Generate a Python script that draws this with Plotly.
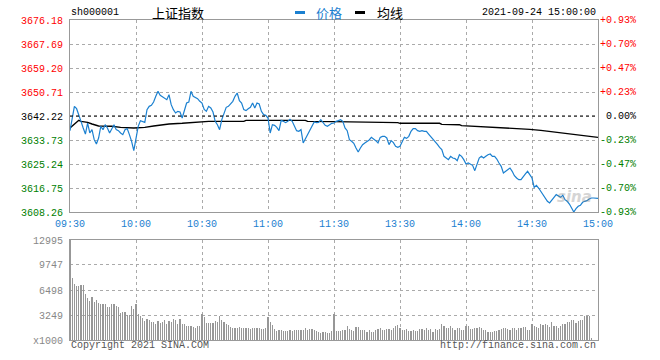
import plotly.graph_objects as go

# ---------------- data ----------------
prev_close = 3642.22
price_ticks = [3608.26, 3616.75, 3625.24, 3633.73, 3642.22, 3650.71, 3659.20, 3667.69, 3676.18]
pct_ticks = ["-0.93%", "-0.70%", "-0.47%", "-0.23%", "0.00%", "+0.23%", "+0.47%", "+0.70%", "+0.93%"]
time_ticks = [0, 30, 60, 90, 120, 150, 180, 210, 240]
time_labels = ["09:30", "10:00", "10:30", "11:00", "11:30", "13:30", "14:00", "14:30", "15:00"]
vol_ticks = [0, 3249, 6498, 9747, 12995]
vol_labels = ["x1000", "3249", "6498", "9747", "12995"]

price_min = [0, 2, 3, 4, 5, 6, 7, 8, 9, 10, 11, 12, 13, 14, 15, 16, 17, 18, 19, 20,
             21, 22, 23, 24, 25, 26, 27, 28, 29, 30, 31, 32, 33, 34, 35, 36, 37, 38, 39, 40,
             41, 42, 43, 44, 45, 46, 47, 48, 49, 50, 51, 52, 53, 54, 55, 56, 57, 58, 59, 60,
             61, 62, 63, 64, 65, 66, 67, 68, 69, 70, 71, 72, 73, 74, 75, 76, 77, 78, 79, 80,
             81, 82, 83, 84, 85, 86, 87, 88, 89, 90, 91, 92, 93, 94, 95, 96, 97, 98, 99, 100,
             101, 102, 103, 104, 105, 106, 107, 108, 109, 110, 111, 112, 113, 114, 115, 116, 117, 118, 119, 120,
             121, 122, 123, 124, 125, 126, 127, 128, 129, 130, 131, 132, 133, 134, 135, 136, 137, 138, 139, 140,
             141, 142, 143, 144, 145, 146, 147, 148, 149, 150, 151, 152, 153, 154, 155, 156, 157, 158, 159, 160,
             161, 162, 163, 164, 165, 166, 167, 168, 169, 170, 171, 172, 173, 174, 175, 176, 177, 178, 179, 180,
             181, 182, 183, 184, 185, 186, 187, 188, 189, 190, 191, 192, 193, 194, 195, 196, 197, 198, 199, 200,
             201, 202, 203, 204, 205, 206, 207, 208, 209, 210, 211, 212, 213, 214, 215, 216, 217, 218, 219, 220,
             221, 222, 223, 224, 225, 226, 227, 228, 229, 230, 231, 232, 233, 234, 235, 236, 237, 238, 240]
price = [3637.03, 3645.64, 3644.81, 3642.10, 3640.33, 3637.98, 3635.85, 3639.74, 3636.21, 3637.39,
         3633.85, 3632.32, 3634.44, 3638.57, 3637.39, 3639.15, 3637.98, 3636.21, 3637.98, 3639.15,
         3637.39, 3637.03, 3636.21, 3635.62, 3637.39, 3637.74, 3635.62, 3633.26, 3629.96, 3634.44,
         3638.57, 3640.57, 3640.33, 3639.98, 3644.46, 3645.64, 3645.99, 3647.17, 3649.18, 3650.94,
         3649.53, 3648.94, 3648.35, 3648.00, 3649.77, 3646.23, 3644.46, 3643.28, 3643.87, 3643.63,
         3641.51, 3644.46, 3646.82, 3647.17, 3650.94, 3649.18, 3648.82, 3648.35, 3647.41, 3646.82,
         3644.58, 3643.87, 3645.64, 3645.05, 3643.63, 3640.33, 3639.15, 3637.39, 3640.92, 3643.28,
         3645.29, 3645.64, 3646.58, 3647.41, 3649.18, 3650.36, 3647.64, 3646.82, 3644.46, 3644.11,
         3644.81, 3645.29, 3646.82, 3645.05, 3646.82, 3646.46, 3643.87, 3642.69, 3642.46, 3641.51,
         3636.21, 3639.15, 3638.92, 3638.21, 3637.03, 3640.69, 3640.33, 3639.86, 3640.33, 3641.04,
         3640.33, 3638.92, 3637.03, 3636.80, 3637.39, 3632.67, 3634.20, 3635.62, 3637.39, 3638.57,
         3640.10, 3639.86, 3639.98, 3640.92, 3639.74, 3638.92, 3638.57, 3639.15, 3639.63, 3639.74,
         3640.33, 3640.57, 3640.92, 3640.33, 3637.98, 3637.03, 3633.85, 3633.26, 3632.55, 3630.90,
         3629.49, 3630.90, 3632.08, 3632.67, 3633.26, 3633.73, 3634.67, 3634.20, 3633.50, 3632.67,
         3634.67, 3635.03, 3635.03, 3634.44, 3632.08, 3633.50, 3632.79, 3631.49, 3631.14, 3631.49,
         3633.14, 3634.67, 3634.32, 3635.03, 3636.80, 3637.74, 3637.74, 3637.03, 3636.80, 3637.03,
         3636.80, 3636.80, 3635.85, 3635.03, 3633.85, 3633.02, 3632.20, 3631.14, 3630.31, 3627.95,
         3627.25, 3626.78, 3627.95, 3627.36, 3627.13, 3626.42, 3628.54, 3627.95, 3626.78, 3625.24,
         3625.60, 3625.24, 3624.77, 3622.88, 3625.01, 3627.36, 3627.95, 3627.36, 3627.95, 3628.54,
         3628.78, 3627.95, 3627.95, 3627.01, 3625.60, 3624.42, 3622.06, 3622.65, 3623.24, 3623.83,
         3622.65, 3621.12, 3620.29, 3619.70, 3619.70, 3620.53, 3621.71, 3622.65, 3621.35, 3620.29,
         3616.99, 3617.70, 3616.75, 3615.57, 3614.16, 3613.22, 3612.04, 3611.45, 3612.63, 3613.45,
         3614.40, 3613.81, 3613.45, 3614.16, 3612.63, 3612.04, 3611.09, 3609.68, 3608.26, 3609.44,
         3610.27, 3610.62, 3611.68, 3612.04, 3612.27, 3612.86, 3613.22, 3613.22, 3613.07]

avg_min = [0, 4, 5, 8, 10, 13, 19, 23, 29, 34, 38, 45, 51, 57, 61, 62, 63, 79, 80, 107, 108, 120,
           134, 135, 149, 150, 168, 169, 177, 178, 184, 194, 201, 209, 214, 219, 223, 228, 233, 237, 240]
avg_price = [3637.98, 3640.69, 3640.33, 3639.98, 3639.39, 3638.68, 3638.57, 3638.21, 3637.98, 3638.21,
             3638.68, 3639.39, 3639.63, 3639.86, 3640.10, 3640.10, 3640.33, 3640.33, 3640.69, 3640.69,
             3640.33, 3640.22, 3640.10, 3639.86, 3639.86, 3639.63, 3639.63, 3639.27, 3639.15, 3638.80,
             3638.57, 3638.21, 3637.86, 3637.50, 3637.15, 3636.68, 3636.21, 3635.73, 3635.26, 3634.79,
             3634.67]

volume = [12995,
          8100, 7280, 7020, 7020, 7150, 7150, 5980, 5510, 5120, 5590,
          4900, 5200, 4770, 4720, 4640, 4720, 4250, 4290, 4680, 4680,
          4420, 4250, 3470, 3600, 3640, 3250, 3250, 4420, 4030, 4680,
          3330, 3160, 2900, 2510, 2730, 2640, 2380, 2300, 2120, 2470,
          2170, 2380, 2600, 2040, 2470, 2380, 2730, 2560, 2040, 2730,
          2120, 2080, 1780, 1820, 1860, 1690, 1600, 1820, 1860, 3380,
          3030, 2250, 2210, 2210, 2170, 2470, 2380, 3120, 2560, 2380,
          2120, 1950, 1650, 1520, 1520, 1600, 1690, 1600, 1520, 1560,
          1520, 1430, 1520, 1600, 1520, 1600, 1430, 1390, 1600, 2940,
          2380, 1950, 1430, 1210, 1300, 1340, 1210, 1210, 1210, 1340,
          1210, 1300, 1260, 1340, 1340, 1340, 1560, 1340, 1390, 1470,
          1260, 1170, 1040, 950, 1040, 990, 910, 950, 1170, 3340,
          1170, 1170, 1170, 1260, 1340, 1820, 1430, 1260, 1170, 1690,
          1690, 1260, 1260, 1260, 1080, 1260, 1080, 990, 1260, 1430,
          1560, 1300, 1340, 1430, 1430, 1340, 1520, 1820, 1950, 1600,
          1260, 1260, 1430, 1170, 1170, 1260, 1170, 1170, 1430, 1430,
          1340, 1520, 1340, 1430, 1080, 1430, 1340, 1430, 2080, 1780,
          1600, 1600, 1780, 1600, 1340, 1520, 1600, 1340, 1260, 1820,
          1780, 1430, 1430, 1520, 1600, 1690, 1520, 1260, 1260, 1080,
          990, 990, 1170, 1170, 1340, 1430, 1520, 1600, 1430, 1260,
          1600, 1520, 1340, 1600, 1600, 1690, 1690, 1340, 1340, 2040,
          1860, 1730, 1600, 2040, 1950, 2040, 1950, 1690, 2300, 1860,
          1860, 1600, 1860, 2040, 2120, 2300, 2300, 2640, 2640, 2210,
          2470, 2560, 2600, 3080, 3160, 3160, 220]
vol_min = list(range(len(volume)))

# ---------------- styling ----------------
W, H = 660, 360
MONO = "Liberation Mono, DejaVu Sans Mono, monospace"
CJK = "Noto Sans CJK SC"
BLUE = "#1b80d0"
RED = "#ff0000"
GREEN = "#008000"
GRID = "#aaaaaa"
BORDER = "#999999"

def px(x):
    return x / W

def py(y):
    return 1 - y / H

def col_for(v):
    if abs(v - prev_close) < 1e-6:
        return "#000000"
    return RED if v > prev_close else GREEN

left_text = ['<span style="color:%s">%.2f</span>' % (col_for(v), v) for v in price_ticks]

fig = go.Figure()
fig.add_trace(go.Scatter(x=avg_min, y=avg_price, mode="lines",
                         line=dict(color="#000000", width=1.4), xaxis="x", yaxis="y",
                         hoverinfo="skip"))
fig.add_trace(go.Scatter(x=price_min, y=price, mode="lines",
                         line=dict(color=BLUE, width=1.2), xaxis="x", yaxis="y"))
fig.add_trace(go.Bar(x=vol_min, y=volume, width=0.46,
                     marker=dict(color="rgba(150,150,150,0.99)", line=dict(width=0)),
                     xaxis="x2", yaxis="y2"))

axis_common = dict(showline=True, mirror=True, linecolor=BORDER, linewidth=1, automargin=False,
                   showgrid=True, gridcolor=GRID, griddash="dot", gridwidth=1, zeroline=False)

fig.update_layout(
    template="none",
    width=W, height=H, margin=dict(l=0, r=0, t=0, b=0, autoexpand=False),
    paper_bgcolor="white", plot_bgcolor="white", showlegend=False,
    xaxis=dict(domain=[px(70), px(598)], range=[0, 240], anchor="y",
               tickmode="array", tickvals=time_ticks, ticktext=time_labels,
               tickfont=dict(family=MONO, size=10, color=BLUE),
               ticks="outside", ticklen=2, tickcolor="rgba(0,0,0,0)", **axis_common),
    yaxis=dict(domain=[py(212), py(20)], range=[price_ticks[0], price_ticks[-1]], anchor="x",
               tickmode="array", tickvals=price_ticks, ticktext=left_text,
               tickfont=dict(family=MONO, size=10, color="#000"),
               ticks="outside", ticklen=4, tickcolor="rgba(0,0,0,0)", **axis_common),
    xaxis2=dict(domain=[px(70), px(598)], range=[0, 240], anchor="y2",
                tickmode="array", tickvals=time_ticks, showticklabels=False, **axis_common),
    yaxis2=dict(domain=[py(340), py(240)], range=[0, 12995], anchor="x2",
                tickmode="array", tickvals=vol_ticks, ticktext=vol_labels,
                tickfont=dict(family=MONO, size=10, color="#888888"),
                ticks="outside", ticklen=4, tickcolor="rgba(0,0,0,0)", **axis_common),
    bargap=0,
)

# previous close dashed line
fig.add_shape(type="line", xref="x", yref="y", x0=0, x1=240, y0=prev_close, y1=prev_close,
              line=dict(color="#000000", width=1, dash="dot"))

# right percentage labels
for v, t in zip(price_ticks, pct_ticks):
    fig.add_annotation(xref="paper", yref="y", x=px(638), y=v, text=t, showarrow=False,
                       xanchor="right", yanchor="middle",
                       font=dict(family=MONO, size=10, color=col_for(v)))

# header
hy = py(12.5)
fig.add_annotation(xref="paper", yref="paper", x=px(69), y=hy, text="sh000001", showarrow=False,
                   xanchor="left", yanchor="middle", font=dict(family=MONO, size=10, color="#000"))
fig.add_annotation(xref="paper", yref="paper", x=px(150), y=hy, text="上证指数", showarrow=False,
                   xanchor="left", yanchor="middle", font=dict(family=CJK, size=13, color="#000"))
fig.add_shape(type="line", xref="paper", yref="paper", x0=px(295), x1=px(305), y0=hy, y1=hy,
              line=dict(color=BLUE, width=3))
fig.add_annotation(xref="paper", yref="paper", x=px(314), y=hy, text="价格", showarrow=False,
                   xanchor="left", yanchor="middle", font=dict(family=CJK, size=13, color=BLUE))
fig.add_shape(type="line", xref="paper", yref="paper", x0=px(355), x1=px(365), y0=hy, y1=hy,
              line=dict(color="#000", width=3))
fig.add_annotation(xref="paper", yref="paper", x=px(375), y=hy, text="均线", showarrow=False,
                   xanchor="left", yanchor="middle", font=dict(family=CJK, size=13, color="#000"))
fig.add_annotation(xref="paper", yref="paper", x=px(598), y=hy, text="2021-09-24 15:00:00",
                   showarrow=False, xanchor="right", yanchor="middle",
                   font=dict(family=MONO, size=10, color="#000"))

# footer
fy = py(345.5)
fig.add_annotation(xref="paper", yref="paper", x=px(69), y=fy, text="Copyright 2021 SINA.COM",
                   showarrow=False, xanchor="left", yanchor="middle",
                   font=dict(family=MONO, size=10, color="#555555"))
fig.add_annotation(xref="paper", yref="paper", x=px(598), y=fy, text="http://finance.sina.com.cn",
                   showarrow=False, xanchor="right", yanchor="middle",
                   font=dict(family=MONO, size=10, color="#555555"))

# faint watermark
fig.add_annotation(xref="paper", yref="paper", x=px(574), y=py(197), text="<b><i>sina</i></b>",
                   showarrow=False, xanchor="center", yanchor="middle", opacity=0.35,
                   font=dict(family="DejaVu Sans", size=15, color="#888888"))

fig.write_html("out.html", config={"displayModeBar": False},
               post_script="document.body.style.margin='0px';")
